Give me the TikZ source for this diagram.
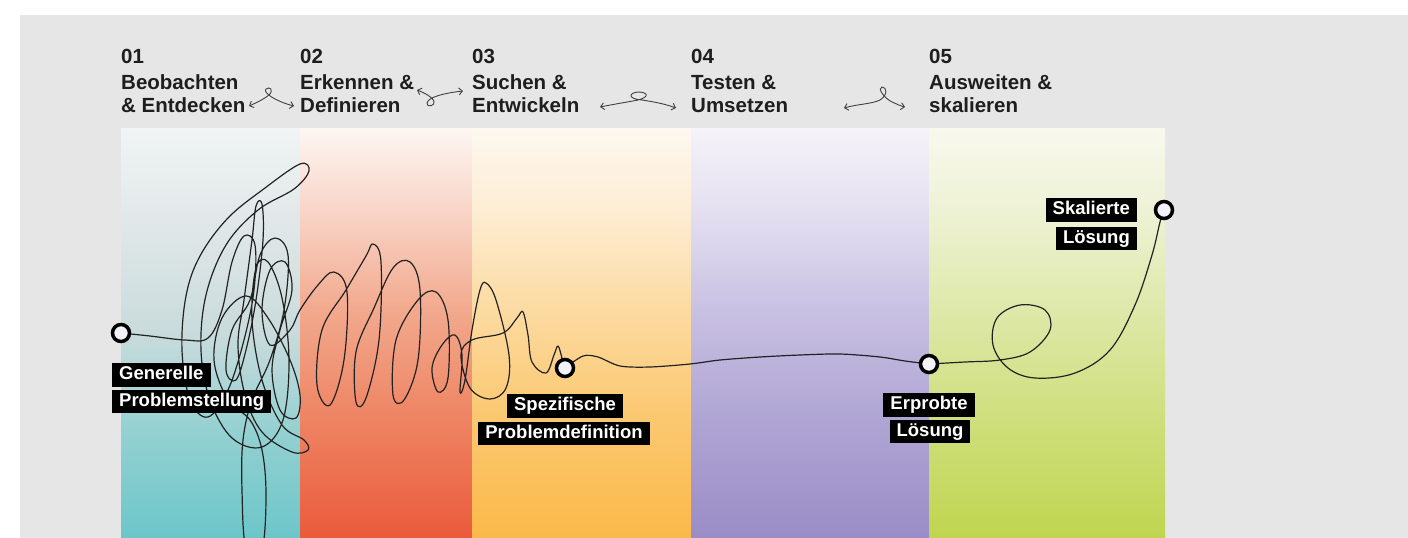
\documentclass[tikz,border=0pt]{standalone}
\usepackage{fontspec}
\setmainfont{Liberation Sans}
\usetikzlibrary{arrows.meta}
\pgfdeclarelayer{bg}
\pgfsetlayers{bg,main}
\definecolor{bggray}{HTML}{E6E6E6}
\definecolor{hdrtext}{HTML}{1E1E1E}
\definecolor{inkline}{HTML}{222222}
\definecolor{dotfill}{HTML}{F2F2F8}
\definecolor{tealT}{HTML}{F0F4F4}\definecolor{tealN}{HTML}{E2E8E9}\definecolor{tealM}{HTML}{C9DBDC}\definecolor{tealC}{HTML}{92D0D1}\definecolor{tealB}{HTML}{6CC6C9}
\definecolor{redT}{HTML}{FDF6F3}\definecolor{redN}{HTML}{F8D2C4}\definecolor{redM}{HTML}{F2A88C}\definecolor{redC}{HTML}{EE8564}\definecolor{redB}{HTML}{EA5A3B}
\definecolor{orT}{HTML}{FDF8F0}\definecolor{orN}{HTML}{FDEDD4}\definecolor{orM}{HTML}{FCDAA0}\definecolor{orC}{HTML}{FBC871}\definecolor{orB}{HTML}{FBB94A}
\definecolor{puT}{HTML}{F5F3F8}\definecolor{puN}{HTML}{E4E0F0}\definecolor{puM}{HTML}{C8C0E2}\definecolor{puC}{HTML}{B0A6D4}\definecolor{puB}{HTML}{9A8CC6}
\definecolor{grT}{HTML}{F8F9EE}\definecolor{grN}{HTML}{EEF2D5}\definecolor{grM}{HTML}{DEE8A8}\definecolor{grC}{HTML}{CFDF7E}\definecolor{grB}{HTML}{C0D54F}
% TikZ maps the path onto 25bp..75bp of a 100bp shading
\pgfdeclareverticalshading{colteal}{100bp}{
  color(0bp)=(tealB); color(25bp)=(tealB); color(37.5bp)=(tealC); color(50bp)=(tealM); color(64bp)=(tealN); color(75bp)=(tealT); color(100bp)=(tealT)}
\pgfdeclareverticalshading{colred}{100bp}{
  color(0bp)=(redB); color(25bp)=(redB); color(40bp)=(redC); color(52.5bp)=(redM); color(64bp)=(redN); color(75bp)=(redT); color(100bp)=(redT)}
\pgfdeclareverticalshading{colorange}{100bp}{
  color(0bp)=(orB); color(25bp)=(orB); color(40bp)=(orC); color(52.5bp)=(orM); color(65bp)=(orN); color(75bp)=(orT); color(100bp)=(orT)}
\pgfdeclareverticalshading{colpurple}{100bp}{
  color(0bp)=(puB); color(25bp)=(puB); color(40bp)=(puC); color(52.5bp)=(puM); color(65bp)=(puN); color(75bp)=(puT); color(100bp)=(puT)}
\pgfdeclareverticalshading{colgreen}{100bp}{
  color(0bp)=(grB); color(25bp)=(grB); color(40bp)=(grC); color(52.5bp)=(grM); color(65bp)=(grN); color(75bp)=(grT); color(100bp)=(grT)}
\tikzset{
  hdr/.style={anchor=base west, inner sep=0pt, text=hdrtext, font=\fontsize{20.5}{24}\selectfont\bfseries},
  lbl/.style={fill=black, text=white, inner xsep=7pt, inner ysep=3pt, text height=13.5pt, text depth=4pt, font=\fontsize{18.5}{20}\selectfont\bfseries},
  dot/.style={circle, draw=black, line width=3.5pt, fill=dotfill, minimum size=17pt, inner sep=0pt},
  harrow/.style={draw=hdrtext!85, line width=0.9pt, {Straight Barb[length=3.5pt,width=7pt]}-{Straight Barb[length=3.5pt,width=7pt]}},
  ink/.style={draw=inkline, line width=1.2pt, line join=round, line cap=round}
}
\begin{document}
\begin{tikzpicture}[x=1pt,y=-1pt]
\useasboundingbox (0,0) rectangle (1408,538);

% header texts
\node[hdr] (n1) at (121,63) {01};
\node[hdr] (t1a) at (121,89) {Beobachten};
\node[hdr] (t1b) at (121,112) {\& Entdecken};
\node[hdr] (n2) at (300,63) {02};
\node[hdr] (t2a) at (300,89) {Erkennen \&};
\node[hdr] (t2b) at (300,112) {Definieren};
\node[hdr] (n3) at (472,63) {03};
\node[hdr] (t3a) at (472,89) {Suchen \&};
\node[hdr] (t3b) at (472,112) {Entwickeln};
\node[hdr] (n4) at (691,63) {04};
\node[hdr] (t4a) at (691,89) {Testen \&};
\node[hdr] (t4b) at (691,112) {Umsetzen};
\node[hdr] (n5) at (929,63) {05};
\node[hdr] (t5a) at (929,89) {Ausweiten \&};
\node[hdr] (t5b) at (929,112) {skalieren};

% header arrows
\coordinate (a12l) at (249,106); \coordinate (a12r) at (294,106);
\coordinate (a23l) at (417,90);  \coordinate (a23r) at (463,91);
\coordinate (a34l) at (600,107); \coordinate (a34r) at (676,108);
\coordinate (a45l) at (844,108); \coordinate (a45r) at (905,107);
\draw[harrow] (a12l) .. controls (258,102) and (264,99) .. (269,95)
  .. controls (274,90) and (270,86) .. (266,89)
  .. controls (262,93) and (278,102) .. (a12r);
\draw[harrow] (a23l) .. controls (425,93) and (432,97) .. (434,101)
  .. controls (436,106) and (426,108) .. (427,103)
  .. controls (428,97) and (445,93) .. (a23r);
\draw[harrow] (a34l) .. controls (615,104) and (628,102) .. (638,100)
  .. controls (650,97) and (648,92) .. (638,92)
  .. controls (628,93) and (628,99) .. (642,100)
  .. controls (655,102) and (665,104) .. (a34r);
\draw[harrow] (a45l) .. controls (858,104) and (872,104) .. (880,100)
  .. controls (888,95) and (887,87) .. (882,87)
  .. controls (877,88) and (884,98) .. (892,102)
  .. controls (897,104) and (900,106) .. (a45r);

% milestone dots
\node[dot] (c1) at (121,333) {};
\node[dot] (c2) at (565,368) {};
\node[dot] (c3) at (929,364) {};
\node[dot] (c4) at (1164,210) {};

% labels
\node[lbl, anchor=west] (l1a) at (112,375) {Generelle};
\node[lbl, anchor=west] (l1b) at (112,401.5) {Problemstellung};
\node[lbl] (l2a) at (565,406) {Spezifische};
\node[lbl] (l2b) at (564,433.5) {Problemdefinition};
\node[lbl] (l3a) at (929,405) {Erprobte};
\node[lbl] (l3b) at (930,431.5) {Lösung};
\node[lbl, anchor=east] (l4a) at (1137,210) {Skalierte};
\node[lbl, anchor=east] (l4b) at (1137,238.5) {Lösung};

\begin{pgfonlayer}{bg}
  \fill[white] (0,0) rectangle (1408,538);
  \fill[bggray] (20,15) rectangle (1408,538);
  \shade[shading=colteal] (121,128) rectangle (300,538);
  \shade[shading=colred] (300,128) rectangle (472,538);
  \shade[shading=colorange] (472,128) rectangle (691,538);
  \shade[shading=colpurple] (691,128) rectangle (929,538);
  \shade[shading=colgreen] (929,128) rectangle (1165,538);
  \begin{scope}
    \clip (0,0) rectangle (1408,538);
    % scribble: general problem -> specific definition
    \draw[ink] plot[smooth, tension=0.6] coordinates {
      (c1) (150,336) (185,340) (208,338)
      (222,310) (232,262) (244,236) (255,245) (254,290) (244,340) (228,390) (208,417) (190,400)
      (182,350) (186,296) (200,256) (228,218) (265,188) (300,164) (309,171) (294,189) (258,210)
      (226,245) (206,295) (201,350) (210,400) (232,438) (262,447) (283,420) (289,360) (282,298)
      (268,262) (256,268) (252,320) (262,380) (282,425) (304,440) (308,450) (292,452) (262,432)
      (245,395) (238,345) (244,300) (252,240) (256,206) (262,204) (263,240) (256,300) (246,350)
      (236,380) (226,370) (232,330) (250,300)
      (260,255) (275,238) (288,255) (284,310) (270,360) (252,400)
      (243,440) (242,490) (246,548) (262,548) (266,495) (262,450) (250,420) (228,400) (214,360)
      (222,318) (246,296) (268,318) (290,360) (300,395) (296,418) (280,410) (272,370) (280,330)
      (292,290) (285,262) (270,270) (262,310) (270,345) (290,330) (300,310)
      (318,285) (334,272) (347,292) (344,360) (330,405) (317,385) (322,330) (346,290) (366,256)
      (373,244) (381,262) (379,340) (366,398) (356,402) (356,352) (374,308) (393,268) (410,262)
      (420,290) (418,360) (404,400) (393,395) (396,340) (418,300) (436,292) (448,320) (448,378)
      (438,392) (432,368) (442,345) (455,335) (462,355) (460,392) (465,380) (472,330) (480,290)
      (486,283) (496,300) (509,355) (506,388) (490,399) (470,388) (461,355) (472,340) (503,333)
      (517,318) (523,312) (528,335) (532,362) (546,373) (554,355) (558,346) (562,358) (c2)};
    % specific definition -> tested solution
    \draw[ink] plot[smooth, tension=0.5] coordinates {
      (c2) (583,356) (598,357) (620,366) (650,367) (690,364) (720,360) (760,357) (800,355)
      (840,354) (880,357) (905,361) (c3)};
    % tested solution -> scaled solution
    \draw[ink] plot[smooth, tension=0.6] coordinates {
      (c3) (965,362) (1000,360) (1030,352) (1050,330) (1045,310) (1020,305) (997,318) (993,345)
      (1008,368) (1035,378) (1075,373) (1110,350) (1135,305) (1152,255) (1160,222) (c4)};
  \end{scope}
\end{pgfonlayer}
\end{tikzpicture}
\end{document}
